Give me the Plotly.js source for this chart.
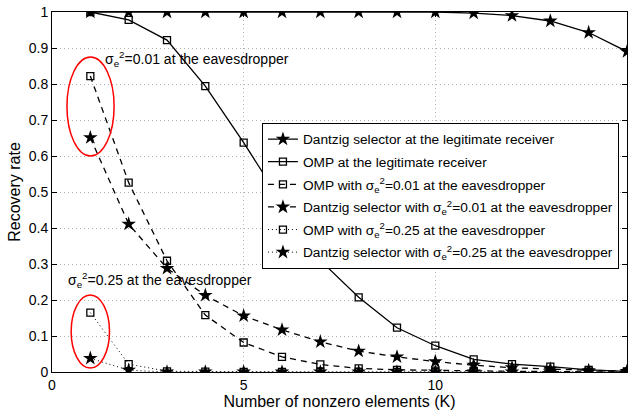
<!DOCTYPE html>
<html>
<head>
<meta charset="utf-8">
<script src="https://cdn.plot.ly/plotly-3.0.1.min.js"></script>
<style>html,body{margin:0;padding:0;background:#fff}#chart{width:634px;height:411px}</style>
</head>
<body>
<div id="chart"></div>
<script>
const K = [1,2,3,4,5,6,7,8,9,10,11,12,13,14,15];
const dsLegit   = [1,1,1,1,1,1,1,1,1,1,0.997,0.99,0.975,0.943,0.89];
const ompLegit  = [1,0.978,0.922,0.794,0.637,0.47,0.31,0.2075,0.123,0.073,0.035,0.022,0.015,0.006,0.002];
const omp001    = [0.822,0.526,0.309,0.158,0.082,0.042,0.021,0.01,0.006,0.004,0.003,0.002,0.001,0.001,0];
const ds001     = [0.651,0.411,0.288,0.213,0.156,0.117,0.084,0.058,0.042,0.029,0.019,0.012,0.008,0.004,0.002];
const omp025    = [0.165,0.022,0.002,0.001,0,0,0,0,0,0,0,0,0,0,0];
const ds025     = [0.038,0.005,0,0,0,0,0,0,0,0,0,0,0,0,0];
const names = [
  "Dantzig selector at the legitimate receiver",
  "OMP at the legitimate receiver",
  "OMP with σ<sub>e</sub><sup>2</sup>=0.01 at the eavesdropper",
  "Dantzig selector with σ<sub>e</sub><sup>2</sup>=0.01 at the eavesdropper",
  "OMP with σ<sub>e</sub><sup>2</sup>=0.25 at the eavesdropper",
  "Dantzig selector with σ<sub>e</sub><sup>2</sup>=0.25 at the eavesdropper"
];
const annoText = ["σ<sub>e</sub><sup>2</sup>=0.01 at the eavesdropper","σ<sub>e</sub><sup>2</sup>=0.25 at the eavesdropper"];
const annoX = [1.33, 0.36];
const annoY = [0.869, 0.256];
const ellipseX = [[0.39,1.62],[0.5,1.5]];
const ellipseY = [[0.6,0.875],[0.011,0.214]];

const star = {symbol:'star', size:11, color:'#000'};
const sq = {symbol:'square-open', size:7, color:'#000', line:{width:1.3, color:'#000'}};
function tr(y, name, dash, marker, g){
  return {x:K, y:y, name:name, legendgroup:g, type:'scatter', mode:'lines+markers',
    line:{color:'#000', width: dash.startsWith('1px')?1:1.3, dash:dash}, marker:marker};
}
const data = [
  tr(dsLegit, names[0], 'solid', star, 'a'),
  tr(ompLegit, names[1], 'solid', sq, 'b'),
  tr(omp001, names[2], '6px,5px', sq, 'c'),
  tr(ds001, names[3], '6px,5px', star, 'd'),
  tr(omp025, names[4], '1px,3px', sq, 'e'),
  tr(ds025, names[5], '1px,3px', star, 'f')
];
const font = {family:'"Liberation Sans", Arial, sans-serif', size:14, color:'#000'};
const gridcol = '#b0b0b0';
const layout = {
  width:634, height:411,
  margin:{l:52, r:7, t:12, b:39},
  paper_bgcolor:'#fff', plot_bgcolor:'#fff',
  font: font,
  showlegend:true,
  xaxis:{range:[0,15], tickvals:[0,5,10,15], ticks:'inside', ticklen:5, tickcolor:'#000',
    showline:true, linecolor:'#000', linewidth:1, mirror:'ticks',
    showgrid:true, gridcolor:gridcol, griddash:'1px,3px', gridwidth:1, zeroline:false,
    tickfont:{size:14}, title:{text:'Number of nonzero elements (K)', font:{size:16}, standoff:1}},
  yaxis:{range:[0,1], tickvals:[0,0.1,0.2,0.3,0.4,0.5,0.6,0.7,0.8,0.9,1], ticktext:['0','0.1','0.2','0.3','0.4','0.5','0.6','0.7','0.8','0.9','1'],
    ticks:'inside', ticklen:5, tickcolor:'#000',
    showline:true, linecolor:'#000', linewidth:1, mirror:'ticks',
    showgrid:true, gridcolor:gridcol, griddash:'1px,3px', gridwidth:1, zeroline:false,
    tickfont:{size:14}, title:{text:'Recovery rate', font:{size:16}, standoff:4}},
  legend:{x:0.986, y:0.6925, xanchor:'right', yanchor:'top', bordercolor:'#000', borderwidth:1,
    bgcolor:'#fff', font:{size:13.7}, traceorder:'grouped', tracegroupgap:1.8, itemwidth:30},
  annotations: annoText.map((t,i)=>({x:annoX[i], y:annoY[i], xref:'x', yref:'y', text:t, showarrow:false,
    xanchor:'left', yanchor:'middle', font:{size:14}})),
  shapes: ellipseX.map((ex,i)=>({type:'circle', xref:'x', yref:'y', x0:ex[0], x1:ex[1], y0:ellipseY[i][0], y1:ellipseY[i][1],
    line:{color:'#ff0000', width:1.5}}))
};
Plotly.newPlot('chart', data, layout, {displayModeBar:false, staticPlot:true});
</script>
</body>
</html>
